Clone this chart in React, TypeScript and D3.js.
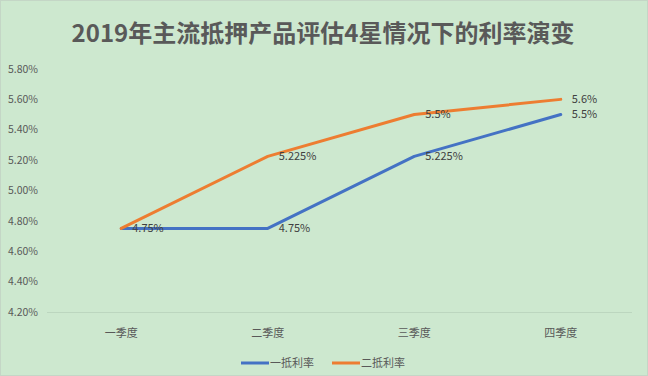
import React from "react";
import * as d3 from "d3";

const categories = ["一季度", "二季度", "三季度", "四季度"];
const seriesNames = ["一抵利率", "二抵利率"];
const firstRates = [4.75, 4.75, 5.225, 5.5];
const secondRates = [4.75, 5.225, 5.5, 5.6];
const firstLabels = ["", "4.75%", "5.225%", "5.5%"];
const secondLabels = ["4.75%", "5.225%", "5.5%", "5.6%"];
const yTicks = [4.2, 4.4, 4.6, 4.8, 5.0, 5.2, 5.4, 5.6, 5.8];
const title = "2019年主流抵押产品评估4星情况下的利率演变";

const W = 648;
const H = 376;
const colors = ["#4472C4", "#ED7D31"];
const font = "'Noto Sans CJK SC', 'Noto Sans', sans-serif";

export default function App() {
  const x = d3.scaleBand<string>().domain(categories).range([48, 634]);
  const y = d3.scaleLinear().domain([4.2, 5.8]).range([312, 69]);
  const cx = (c: string) => (x(c) ?? 0) + x.bandwidth() / 2;
  const line = d3
    .line<number>()
    .x((_, i) => cx(categories[i]))
    .y((d) => y(d));
  const series = [firstRates, secondRates];
  const labels = [firstLabels, secondLabels];

  return (
    <div style={{ position: "fixed", left: 0, top: 0 }}>
      <svg width={W} height={H} style={{ display: "block" }}>
        <rect x={0.5} y={0.5} width={W - 1} height={H - 1} fill="#cde8cf" stroke="#c4d6c6" />
        <text
          x={323}
          y={42}
          textAnchor="middle"
          fontFamily={font}
          fontWeight="bold"
          fontSize={24}
          fill="#595959"
        >
          {title}
        </text>
        {yTicks.map((t) => (
          <text
            key={t}
            x={38}
            y={y(t)}
            dy="0.35em"
            textAnchor="end"
            fontFamily={font}
            fontSize={10.5}
            fill="#595959"
          >
            {t.toFixed(2) + "%"}
          </text>
        ))}
        <line x1={47} x2={632} y1={312.5} y2={312.5} stroke="#bcd6bf" strokeWidth={1} />
        {categories.map((c) => (
          <text
            key={c}
            x={cx(c)}
            y={333}
            dy="0.35em"
            textAnchor="middle"
            fontFamily={font}
            fontSize={11}
            fill="#595959"
          >
            {c}
          </text>
        ))}
        {series.map((s, k) => (
          <path
            key={k}
            d={line(s) ?? ""}
            fill="none"
            stroke={colors[k]}
            strokeWidth={3}
            strokeLinejoin="round"
            strokeLinecap="round"
          />
        ))}
        {series.map((s, k) =>
          s.map((v, i) =>
            labels[k][i] ? (
              <text
                key={`${k}-${i}`}
                x={cx(categories[i]) + 11}
                y={y(v)}
                dy="0.35em"
                fontFamily={font}
                fontSize={11}
                fill="#404040"
              >
                {labels[k][i]}
              </text>
            ) : null
          )
        )}
        {seriesNames.map((n, k) => {
          const lx = k === 0 ? 241 : 332;
          return (
            <g key={n}>
              <line x1={lx} x2={lx + 28} y1={363} y2={363} stroke={colors[k]} strokeWidth={3} />
              <text
                x={lx + 29}
                y={363}
                dy="0.35em"
                fontFamily={font}
                fontSize={11}
                fill="#595959"
              >
                {n}
              </text>
            </g>
          );
        })}
      </svg>
    </div>
  );
}
